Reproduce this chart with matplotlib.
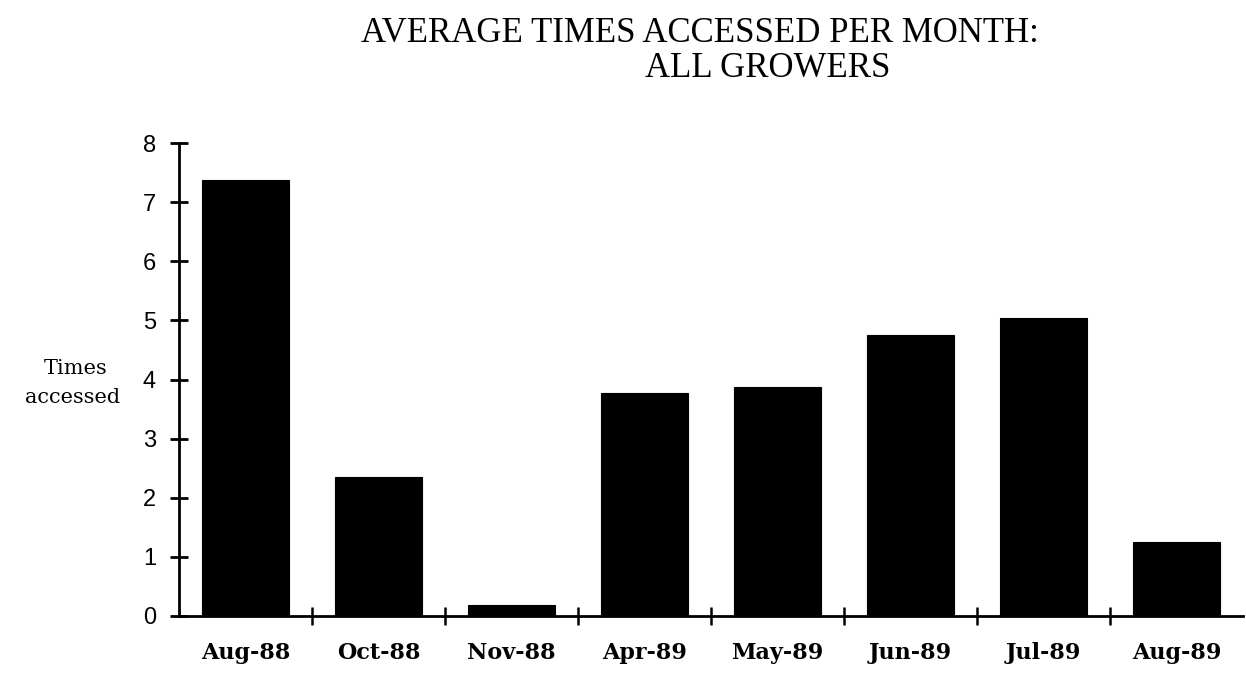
import matplotlib
matplotlib.use("Agg")
import matplotlib.pyplot as plt
from matplotlib.ticker import FixedLocator, NullFormatter, FixedFormatter

months = ["Aug-88", "Oct-88", "Nov-88", "Apr-89", "May-89", "Jun-89", "Jul-89", "Aug-89"]
times_accessed = [7.38, 2.35, 0.18, 3.78, 3.87, 4.76, 5.04, 1.25]
y_ticks = [0, 1, 2, 3, 4, 5, 6, 7, 8]

W, H = 1246, 673
fig = plt.figure(figsize=(W / 100, H / 100), dpi=100)
fig.patch.set_facecolor("white")

def fx(px):
    return px / W

def fy(py):
    return 1 - py / H

ax = fig.add_axes([fx(179), fy(616), fx(1243) - fx(179), fy(143) - fy(616)])
x = list(range(len(months)))
ax.bar(x, times_accessed, width=0.66, color="black", edgecolor="black", linewidth=0.8)

ax.set_xlim(-0.5, len(months) - 0.5)
ax.set_ylim(0, 8)
for s in ["top", "right"]:
    ax.spines[s].set_visible(False)
for s in ["left", "bottom"]:
    ax.spines[s].set_linewidth(2)
    ax.spines[s].set_color("black")

# y axis
ax.set_yticks(y_ticks)
ax.set_yticklabels([str(v) for v in y_ticks], family="Liberation Sans", fontsize=17)
ax.tick_params(axis="y", direction="inout", length=13, width=2, pad=10)

# x axis: ticks at category boundaries, labels centered
ax.xaxis.set_major_locator(FixedLocator([i + 0.5 for i in range(len(months) - 1)]))
ax.xaxis.set_major_formatter(NullFormatter())
ax.xaxis.set_minor_locator(FixedLocator(x))
ax.xaxis.set_minor_formatter(FixedFormatter(months))
ax.tick_params(axis="x", which="major", direction="inout", length=13, width=1.8)
ax.tick_params(axis="x", which="minor", length=0, pad=19)
for lbl in ax.get_xticklabels(minor=True):
    lbl.set_fontfamily("DejaVu Serif")
    lbl.set_fontsize(16)
    lbl.set_fontweight("bold")

# title
fig.text(fx(700), fy(42), "AVERAGE TIMES ACCESSED PER MONTH:", ha="center", va="baseline",
         family="Liberation Serif", fontsize=25)
fig.text(fx(768), fy(77), "ALL GROWERS", ha="center", va="baseline",
         family="Liberation Serif", fontsize=25)

# y label
fig.text(fx(108), fy(374), "Times", ha="right", va="baseline", family="DejaVu Serif", fontsize=15)
fig.text(fx(120), fy(403), "accessed", ha="right", va="baseline", family="DejaVu Serif", fontsize=15)

fig.savefig("out.png", dpi=100, facecolor="white")
